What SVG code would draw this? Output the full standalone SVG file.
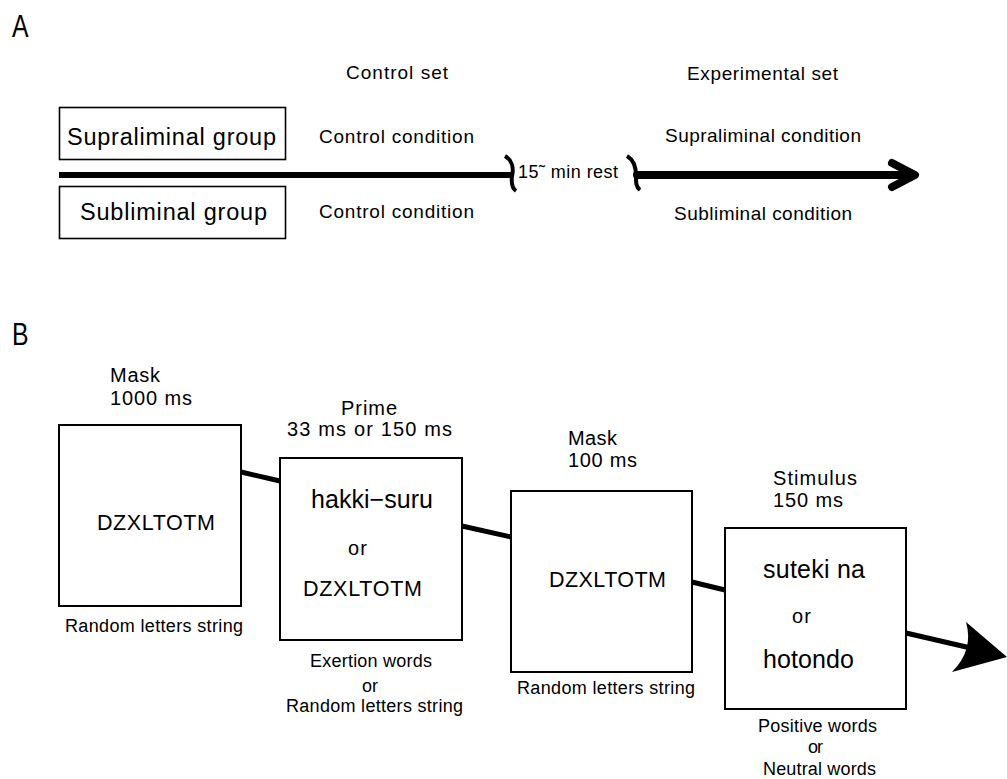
<svg xmlns="http://www.w3.org/2000/svg" width="1007" height="779" viewBox="0 0 1007 779">
<style>
text{font-family:"Liberation Sans",Arial,sans-serif;fill:#000}
.lbl{font-size:31px}
.grp{font-size:23.5px}
.cnd{font-size:19px}
.rst{font-size:18px}
.hdr{font-size:20px}
.word{font-size:25px}
.rnd{font-size:21.5px}
.or{font-size:20px}
.cap{font-size:18px}
.boxA{fill:#fff;stroke:#000;stroke-width:1.6}
.boxB{fill:#fff;stroke:#000;stroke-width:2}
.conn{stroke:#000;stroke-width:5;fill:none}
</style>
<rect width="1007" height="779" fill="#fff"/>

<g id="labelA"><text class="lbl" transform="translate(12,37) scale(0.8,1)">A</text></g>
<g id="labelB"><text class="lbl" transform="translate(12,345) scale(0.8,1)">B</text></g>

<g id="controlSet"><text class="cnd" x="346" y="79" textLength="102" lengthAdjust="spacing">Control set</text></g>
<g id="experimentalSet"><text class="cnd" x="687" y="80" textLength="151" lengthAdjust="spacing">Experimental set</text></g>

<g id="supraGroup">
<rect class="boxA" x="59.5" y="107.5" width="226" height="52"/>
<text class="grp" x="67" y="145" textLength="209" lengthAdjust="spacing">Supraliminal group</text>
</g>
<g id="subGroup">
<rect class="boxA" x="59.5" y="186.5" width="226" height="52"/>
<text class="grp" x="80" y="220" textLength="187" lengthAdjust="spacing">Subliminal group</text>
</g>

<g id="controlCond1"><text class="cnd" x="319" y="143" textLength="155" lengthAdjust="spacing">Control condition</text></g>
<g id="controlCond2"><text class="cnd" x="319" y="218" textLength="155" lengthAdjust="spacing">Control condition</text></g>
<g id="supraCond"><text class="cnd" x="665" y="142" textLength="196" lengthAdjust="spacing">Supraliminal condition</text></g>
<g id="subCond"><text class="cnd" x="674" y="220" textLength="178" lengthAdjust="spacing">Subliminal condition</text></g>
<g id="rest"><text class="rst" x="518" y="178" textLength="100" lengthAdjust="spacing">15˜ min rest</text></g>

<g id="connectors">
<line x1="59" y1="175" x2="511" y2="175" stroke="#000" stroke-width="6"/>
<path d="M505,156 C512,160 514,168 512,176 C511,184 512,188 516,191" fill="none" stroke="#000" stroke-width="4"/>
<path d="M627,156 C634,160 636,168 636,176 C636,183 636,187 640,190" fill="none" stroke="#000" stroke-width="4"/>
<path d="M637,175 H913 M892,163 L915,175 L892,187" fill="none" stroke="#000" stroke-width="8" stroke-linecap="round" stroke-linejoin="round"/>

<line class="conn" x1="241" y1="472" x2="280" y2="481"/>
<line class="conn" x1="462" y1="526" x2="511" y2="537"/>
<line class="conn" x1="692" y1="582" x2="725" y2="590"/>
<line class="conn" x1="906" y1="633" x2="975" y2="649"/>
<path d="M1007,657 L966,622 Q974,650 952,672 Z" fill="#000"/>
</g>

<g id="mask1">
<text class="hdr" x="110" y="382" textLength="50" lengthAdjust="spacing">Mask</text>
<text class="hdr" x="110" y="405" textLength="82" lengthAdjust="spacing">1000 ms</text>
<rect class="boxB" x="59" y="425" width="182" height="181"/>
<text class="rnd" x="97" y="530" textLength="118" lengthAdjust="spacing">DZXLTOTM</text>
<text class="cap" x="65" y="632" textLength="178" lengthAdjust="spacing">Random letters string</text>
</g>

<g id="prime">
<text class="hdr" x="341" y="415" textLength="56" lengthAdjust="spacing">Prime</text>
<text class="hdr" x="287" y="436" textLength="165" lengthAdjust="spacing">33 ms or 150 ms</text>
<rect class="boxB" x="280" y="458" width="182" height="182"/>
<text class="word" x="311" y="508" textLength="122" lengthAdjust="spacing">hakki−suru</text>
<text class="or" x="348" y="555" textLength="19" lengthAdjust="spacing">or</text>
<text class="rnd" x="303" y="596" textLength="119" lengthAdjust="spacing">DZXLTOTM</text>
<text class="cap" x="310" y="667" textLength="122" lengthAdjust="spacing">Exertion words</text>
<text class="cap" x="362" y="692" textLength="16" lengthAdjust="spacing">or</text>
<text class="cap" x="286" y="712" textLength="177" lengthAdjust="spacing">Random letters string</text>
</g>

<g id="mask2">
<text class="hdr" x="568" y="445" textLength="49" lengthAdjust="spacing">Mask</text>
<text class="hdr" x="568" y="467" textLength="69" lengthAdjust="spacing">100 ms</text>
<rect class="boxB" x="511" y="491" width="181" height="181"/>
<text class="rnd" x="549" y="587" textLength="117" lengthAdjust="spacing">DZXLTOTM</text>
<text class="cap" x="517" y="694" textLength="178" lengthAdjust="spacing">Random letters string</text>
</g>

<g id="stimulus">
<text class="hdr" x="773" y="485" textLength="84" lengthAdjust="spacing">Stimulus</text>
<text class="hdr" x="773" y="507" textLength="70" lengthAdjust="spacing">150 ms</text>
<rect class="boxB" x="725" y="528" width="181" height="181"/>
<text class="word" x="763" y="578" textLength="102" lengthAdjust="spacing">suteki na</text>
<text class="or" x="792" y="623" textLength="19" lengthAdjust="spacing">or</text>
<text class="word" x="763" y="668" textLength="91" lengthAdjust="spacing">hotondo</text>
<text class="cap" x="758" y="732" textLength="119" lengthAdjust="spacing">Positive words</text>
<text class="cap" x="808" y="753" textLength="15" lengthAdjust="spacing">or</text>
<text class="cap" x="763" y="775" textLength="113" lengthAdjust="spacing">Neutral words</text>
</g>
</svg>
